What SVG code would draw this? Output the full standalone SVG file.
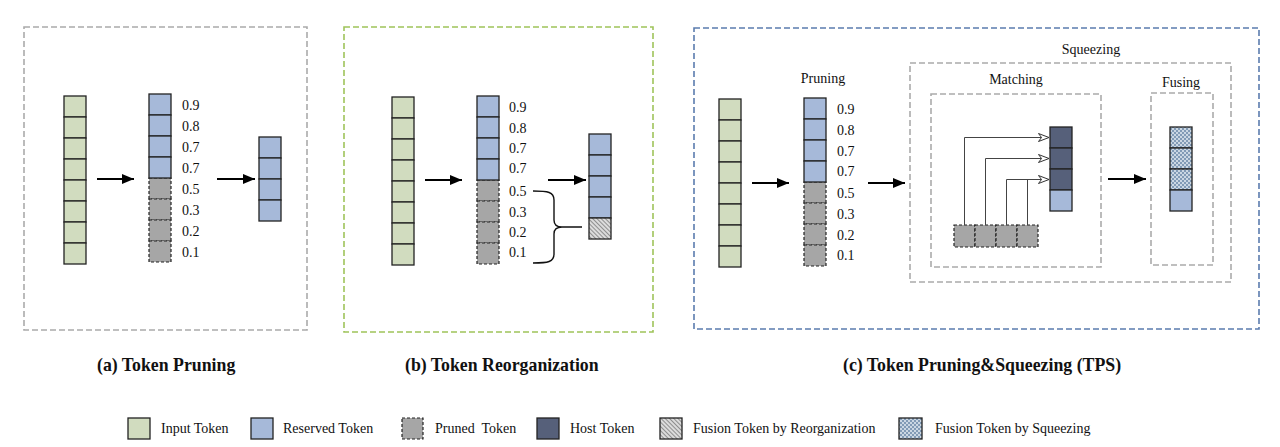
<svg xmlns="http://www.w3.org/2000/svg" width="1280" height="447" viewBox="0 0 1280 447">
<style>
text{font-family:"Liberation Serif","Times New Roman",serif;fill:#111;}
.lbl{font-size:14px;}
.cap{font-size:17.8px;font-weight:bold;}
.frame{fill:none;stroke-width:1.6;stroke-dasharray:6 3;}
.fa{stroke:#ababab;}
.fb{stroke:#9fc45a;}
.fc{stroke:#5b7cae;}
.in{fill:#d1dcbf;stroke:#222;stroke-width:1.3;}
.rs{fill:#a6b9d9;stroke:#222;stroke-width:1.3;}
.pr{fill:#a6a6a6;stroke:#222;stroke-width:1.2;stroke-dasharray:3 2;}
.hs{fill:#56607a;stroke:#222;stroke-width:1.3;}
.rg{fill:url(#hatch);stroke:#222;stroke-width:1.3;}
.sq{fill:url(#dots);stroke:#222;stroke-width:1.3;}
.arr{stroke:#000;stroke-width:2;fill:none;marker-end:url(#ah);}
.con{stroke:#444;stroke-width:1;fill:none;}
</style>
<defs>
<marker id="ah" viewBox="0 0 12 10" refX="12" refY="5" markerWidth="12" markerHeight="10" markerUnits="userSpaceOnUse" orient="auto">
<path d="M0,0 L12,5 L0,10 Z" fill="#000"/>
</marker>
<marker id="oh" viewBox="0 0 11 9" refX="11" refY="4.5" markerWidth="11" markerHeight="9" markerUnits="userSpaceOnUse" orient="auto">
<path d="M0.5,0.5 L11,4.5 L0.5,8.5 L3.5,4.5 Z" fill="#fff" stroke="#333" stroke-width="1"/>
</marker>
<pattern id="hatch" width="3" height="3" patternUnits="userSpaceOnUse" patternTransform="rotate(-45)">
<rect width="3" height="3" fill="#dcdcdc"/>
<line x1="0.5" y1="0" x2="0.5" y2="3" stroke="#8f8f8f" stroke-width="1"/>
</pattern>
<pattern id="dots" width="4" height="4" patternUnits="userSpaceOnUse">
<rect width="4" height="4" fill="#829bb6"/>
<circle cx="1" cy="1" r="1" fill="#e4ebf3"/>
<circle cx="3" cy="3" r="1" fill="#e4ebf3"/>
</pattern>
</defs>

<!-- Panel (a) -->
<g id="panel-a">
<rect class="frame fa" x="24" y="27" width="283" height="303"/>
<g id="a-input">
<rect class="in" x="64" y="96" width="22" height="21"/><rect class="in" x="64" y="117" width="22" height="21"/><rect class="in" x="64" y="138" width="22" height="21"/><rect class="in" x="64" y="159" width="22" height="21"/><rect class="in" x="64" y="180" width="22" height="21"/><rect class="in" x="64" y="201" width="22" height="21"/><rect class="in" x="64" y="222" width="22" height="21"/><rect class="in" x="64" y="243" width="22" height="21"/>
</g>
<g id="a-scored">
<rect class="pr" x="149" y="178" width="22" height="21"/><rect class="pr" x="149" y="199" width="22" height="21"/><rect class="pr" x="149" y="220" width="22" height="21"/><rect class="pr" x="149" y="241" width="22" height="21"/>
<rect class="rs" x="149" y="94" width="22" height="21"/><rect class="rs" x="149" y="115" width="22" height="21"/><rect class="rs" x="149" y="136" width="22" height="21"/><rect class="rs" x="149" y="157" width="22" height="21"/>
<text class="lbl" x="182" y="110">0.9</text><text class="lbl" x="182" y="131">0.8</text><text class="lbl" x="182" y="152">0.7</text><text class="lbl" x="182" y="173">0.7</text><text class="lbl" x="182" y="194">0.5</text><text class="lbl" x="182" y="215">0.3</text><text class="lbl" x="182" y="236">0.2</text><text class="lbl" x="182" y="257">0.1</text>
</g>
<g id="a-output">
<rect class="rs" x="259" y="137" width="22" height="21"/><rect class="rs" x="259" y="158" width="22" height="21"/><rect class="rs" x="259" y="179" width="22" height="21"/><rect class="rs" x="259" y="200" width="22" height="21"/>
</g>
<text class="cap" x="97" y="371">(a) Token Pruning</text>
</g>

<!-- Panel (b) -->
<g id="panel-b">
<rect class="frame fb" x="344" y="27" width="309" height="305"/>
<g id="b-input">
<rect class="in" x="392" y="97" width="22" height="21"/><rect class="in" x="392" y="118" width="22" height="21"/><rect class="in" x="392" y="139" width="22" height="21"/><rect class="in" x="392" y="160" width="22" height="21"/><rect class="in" x="392" y="181" width="22" height="21"/><rect class="in" x="392" y="202" width="22" height="21"/><rect class="in" x="392" y="223" width="22" height="21"/><rect class="in" x="392" y="244" width="22" height="21"/>
</g>
<g id="b-scored">
<rect class="pr" x="477" y="180" width="22" height="21"/><rect class="pr" x="477" y="201" width="22" height="21"/><rect class="pr" x="477" y="222" width="22" height="21"/><rect class="pr" x="477" y="243" width="22" height="21"/>
<rect class="rs" x="477" y="96" width="22" height="21"/><rect class="rs" x="477" y="117" width="22" height="21"/><rect class="rs" x="477" y="138" width="22" height="21"/><rect class="rs" x="477" y="159" width="22" height="21"/>
<text class="lbl" x="509" y="112">0.9</text><text class="lbl" x="509" y="133">0.8</text><text class="lbl" x="509" y="153">0.7</text><text class="lbl" x="509" y="173">0.7</text><text class="lbl" x="509" y="196">0.5</text><text class="lbl" x="509" y="217">0.3</text><text class="lbl" x="509" y="237">0.2</text><text class="lbl" x="509" y="257">0.1</text>
</g>
<g id="b-output">
<rect class="rs" x="589" y="134" width="22" height="21"/><rect class="rs" x="589" y="155" width="22" height="21"/><rect class="rs" x="589" y="176" width="22" height="21"/><rect class="rs" x="589" y="197" width="22" height="21"/><rect class="rg" x="589" y="218" width="22" height="21"/>
</g>
<text class="cap" x="405" y="371">(b) Token Reorganization</text>
</g>

<!-- Panel (c) -->
<g id="panel-c">
<rect class="frame fc" x="694" y="28" width="565" height="301"/>
<g id="c-input">
<rect class="in" x="719" y="99" width="22" height="21"/><rect class="in" x="719" y="120" width="22" height="21"/><rect class="in" x="719" y="141" width="22" height="21"/><rect class="in" x="719" y="162" width="22" height="21"/><rect class="in" x="719" y="183" width="22" height="21"/><rect class="in" x="719" y="204" width="22" height="21"/><rect class="in" x="719" y="225" width="22" height="21"/><rect class="in" x="719" y="246" width="22" height="21"/>
</g>
<g id="c-scored">
<text class="lbl" x="823" y="83" text-anchor="middle">Pruning</text>
<rect class="pr" x="804" y="182" width="22" height="21"/><rect class="pr" x="804" y="203" width="22" height="21"/><rect class="pr" x="804" y="224" width="22" height="21"/><rect class="pr" x="804" y="245" width="22" height="21"/>
<rect class="rs" x="804" y="98" width="22" height="21"/><rect class="rs" x="804" y="119" width="22" height="21"/><rect class="rs" x="804" y="140" width="22" height="21"/><rect class="rs" x="804" y="161" width="22" height="21"/>
<text class="lbl" x="837" y="114">0.9</text><text class="lbl" x="837" y="135">0.8</text><text class="lbl" x="837" y="156">0.7</text><text class="lbl" x="837" y="176">0.7</text><text class="lbl" x="837" y="198">0.5</text><text class="lbl" x="837" y="219">0.3</text><text class="lbl" x="837" y="240">0.2</text><text class="lbl" x="837" y="260">0.1</text>
</g>
<g id="c-squeezing">
<rect class="frame fa" x="910" y="63" width="321" height="219"/>
<text class="lbl" x="1091" y="54" text-anchor="middle">Squeezing</text>
</g>
<g id="c-matching">
<rect class="frame fa" x="931" y="94" width="170" height="173"/>
<text class="lbl" x="1016" y="84" text-anchor="middle">Matching</text>
<g id="c-host">
<rect class="hs" x="1050" y="127" width="22" height="21"/><rect class="hs" x="1050" y="148" width="22" height="21"/><rect class="hs" x="1050" y="169" width="22" height="21"/><rect class="rs" x="1050" y="190" width="22" height="21"/>
</g>
<g id="c-pruned">
<rect class="pr" x="954" y="225" width="21" height="22"/><rect class="pr" x="975" y="225" width="21" height="22"/><rect class="pr" x="996" y="225" width="21" height="22"/><rect class="pr" x="1017" y="225" width="21" height="22"/>
</g>
</g>
<g id="c-fusing">
<rect class="frame fa" x="1151" y="93" width="62" height="172"/>
<text class="lbl" x="1181" y="87" text-anchor="middle">Fusing</text>
<rect class="sq" x="1170" y="127" width="22" height="21"/><rect class="sq" x="1170" y="148" width="22" height="21"/><rect class="sq" x="1170" y="169" width="22" height="21"/><rect class="rs" x="1170" y="190" width="22" height="21"/>
</g>
<text class="cap" x="843" y="371">(c) Token Pruning&amp;Squeezing (TPS)</text>
</g>

<!-- Connectors -->
<g id="connectors">
<line class="arr" x1="97" y1="179" x2="134" y2="179"/>
<line class="arr" x1="217" y1="179" x2="255" y2="179"/>
<line class="arr" x1="425" y1="180" x2="462" y2="180"/>
<line class="arr" x1="548" y1="180" x2="586" y2="180"/>
<line class="arr" x1="752" y1="183" x2="789" y2="183"/>
<line class="arr" x1="868" y1="183" x2="905" y2="183"/>
<line class="arr" x1="1108" y1="179" x2="1146" y2="179"/>
<path d="M533,191 C548,191 554,192 554,200 L554,220 C554,225 557,227 562,227 L582,227 M562,227 C557,227 554,229 554,234 L554,254 C554,262 548,263 533,263" fill="none" stroke="#111" stroke-width="1.4"/>
<path class="con" d="M964.5,225 V137.5 H1049" marker-end="url(#oh)"/>
<path class="con" d="M985.5,225 V158.5 H1049" marker-end="url(#oh)"/>
<path class="con" d="M1006.5,225 V179.5 H1049" marker-end="url(#oh)"/>
<path class="con" d="M1027.5,225 V179.5"/>
</g>

<!-- Legend -->
<g id="legend">
<rect class="in" x="128" y="418" width="22" height="21"/><text class="lbl" x="161" y="433">Input Token</text>
<rect class="rs" x="251" y="418" width="22" height="21"/><text class="lbl" x="283" y="433">Reserved Token</text>
<rect class="pr" x="402" y="418" width="21" height="21"/><text class="lbl" x="435" y="433" xml:space="preserve">Pruned  Token</text>
<rect class="hs" x="537" y="418" width="22" height="21"/><text class="lbl" x="570" y="433">Host Token</text>
<rect class="rg" x="660" y="418" width="22" height="21"/><text class="lbl" x="693" y="433">Fusion Token by Reorganization</text>
<rect class="sq" x="899" y="418" width="23" height="21"/><text class="lbl" x="935" y="433">Fusion Token by Squeezing</text>
</g>
</svg>
